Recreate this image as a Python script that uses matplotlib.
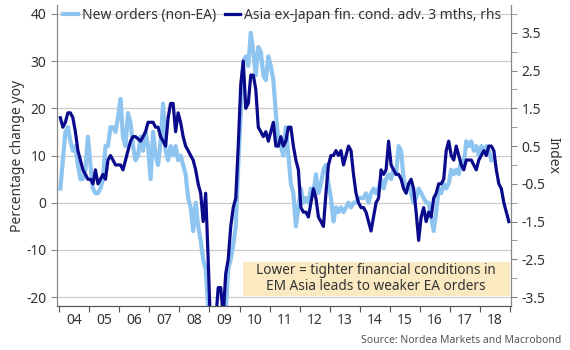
import numpy as np
import matplotlib
matplotlib.use("Agg")
import matplotlib.pyplot as plt
from matplotlib.patches import Rectangle

plt.rcParams['font.family'] = ['Noto Sans', 'DejaVu Sans']

# monthly data, Jan 2004 onwards
# new orders (non-EA), % y/y, left axis
orders = [
    3, 9, 15, 16, 13, 11, 12, 8, 5, 5, 7, 14,            # 2004
    8, 3, 2, 2, 3, 5, 12, 12, 16, 16, 15, 18,            # 2005
    22, 14, 12, 19, 17, 12, 9, 10, 14, 11, 15, 12,       # 2006
    5, 15, 10, 8, 13, 21, 11, 9, 12, 10, 12, 9,          # 2007
    10, 8, 6, 1, -1, -6, 0, -5, -8, -12, -14, -22,       # 2008
    -25, -27, -28, -27, -26, -25, -23, -14, -12, -9, -5, 8,  # 2009
    19, 30, 31, 29, 36, 32, 27, 33, 32, 27, 26, 31,      # 2010
    29, 26, 19, 13, 12, 10, 16, 10, 4, 2, -5, -1,        # 2011
    3, 0, 1, 0, 3, 2, 6, 2, 4, 7, 8, 4,                  # 2012
    1, -4, -1, -2, -1, -2, -1, 0, -1, 0, 0, 1,           # 2013
    1, 1, 2, 0, 2, 3, 2, 3, 5, 3, 5, 6,                  # 2014
    5, 7, 6, 12, 11, 5, 3, 4, 2, 0, 1, 3,                # 2015
    2, 1, 0, 0, -3, -6, -2, 3, 2, 4, 3, 4,               # 2016
    7, 6, 7, 6, 9, 8, 13, 12, 13, 11, 12, 10,            # 2017
    12, 11, 12, 11, 9,                                   # 2018
]

# Asia ex-Japan financial conditions, advanced 3 months, index, right axis
fincond = [
    1.25, 1.0, 1.13, 1.38, 1.38, 1.25, 0.88, 0.38, 0.13, -0.13, -0.25, -0.38,     # 2004
    -0.38, -0.5, -0.13, -0.5, -0.38, -0.25, -0.38, 0.13, 0.25, 0.13, 0.0, 0.0,    # 2005
    0.0, -0.13, 0.13, 0.38, 0.63, 0.75, 0.75, 0.69, 0.63, 0.75, 0.88, 1.13,       # 2006
    1.13, 1.13, 1.0, 1.0, 0.75, 0.63, 0.5, 1.25, 1.63, 1.63, 0.88, 1.38,          # 2007
    1.13, 0.75, 0.5, 0.38, 0.25, 0.13, -0.13, -0.5, -0.75, -1.5, -0.75, -2.5,     # 2008
    -4.5, -4.75, -4.13, -3.25, -3.25, -4.0, -2.88, -2.5, -1.63, -1.13, -0.88, 0.5,  # 2009
    2.13, 2.75, 1.5, 1.63, 2.38, 2.38, 2.0, 1.0, 0.88, 0.75, 0.88, 0.63,          # 2010
    0.88, 1.13, 0.5, 0.5, 0.75, 0.5, 0.63, 1.0, 1.0, 0.5, 0.13, -0.13,            # 2011
    -1.13, -1.25, -1.25, -1.38, -1.0, -0.63, -0.88, -1.38, -1.5, -1.63, -0.75, 0.0,  # 2012
    0.25, 0.25, 0.38, 0.25, 0.38, 0.0, 0.25, 0.5, 0.38, -0.25, -0.75, -1.0,       # 2013
    -1.13, -1.13, -1.25, -1.5, -1.75, -1.38, -1.0, -0.88, -0.13, -0.25, -0.13, 0.63,  # 2014
    0.0, -0.13, -0.25, -0.25, -0.38, -0.63, -0.75, -0.5, -0.38, -0.63, -1.25, -2.0,   # 2015
    -1.38, -1.13, -1.5, -1.25, -1.38, -0.88, -0.75, -0.5, -0.5, -0.38, 0.38, 0.63,    # 2016
    0.25, 0.13, 0.5, 0.25, 0.0, -0.13, 0.13, 0.13, 0.13, 0.0, -0.13, 0.13,        # 2017
    0.25, 0.38, 0.25, 0.5, 0.5, 0.38, -0.13, -0.5, -0.63, -1.0, -1.25, -1.5,      # 2018
]

year_labels = ['04', '05', '06', '07', '08', '09', '10', '11', '12', '13',
               '14', '15', '16', '17', '18']
left_ticks = [-20, -10, 0, 10, 20, 30, 40]
right_ticks = [-3.5, -2.5, -1.5, -0.5, 0.5, 1.5, 2.5, 3.5]

light = '#8ec4f0'
dark = '#0a0a8c'
txt = '#333333'

t_orders = 2004 + (np.arange(len(orders)) + 0.5) / 12
t_fin = 2004 + (np.arange(len(fincond)) + 0.5) / 12

fig = plt.figure(figsize=(5.7, 3.5), dpi=100)
ax = fig.add_axes([0.1, 0.1257, 0.7965, 0.86])
ax2 = ax.twinx()

ax.plot(t_orders, orders, '-', color=light, lw=3.0, label='New orders (non-EA)')
ax2.plot(t_fin, fincond, '-', color=dark, lw=2.3,
         label='Asia ex-Japan fin. cond. adv. 3 mths, rhs')

ax.set_xlim(2003.93, 2019.03)
ax.set_ylim(-21.9, 41.9)
ax2.set_ylim(-21.9 / 8 - 1, 41.9 / 8 - 1)

# x axis: ticks at year boundaries, labels in the middle of each year
years = np.arange(2004, 2020)
ax.set_xticks(years)
ax.set_xticklabels([])
ax.set_xticks(years[:-1] + 0.5, minor=True)
ax.set_xticklabels(year_labels, minor=True)
ax.tick_params(axis='x', which='major', length=4, color='#555555')
ax.tick_params(axis='x', which='minor', length=0, labelsize=10, labelcolor=txt, pad=5)

ax.set_yticks(left_ticks)
ax.set_yticklabels([str(v) for v in left_ticks])
ax.tick_params(axis='y', length=4, color='#888888', labelsize=10, labelcolor=txt)
ax.grid(axis='y', color='#cccccc', lw=0.9)
ax.set_axisbelow(True)

ax2.set_yticks(right_ticks)
ax2.set_yticklabels([('%.1f' % v) for v in right_ticks])
ax2.set_yticks(np.arange(-3, 4.5, 1), minor=True)
ax2.tick_params(axis='y', which='both', length=4, color='#888888',
                labelsize=10, labelcolor=txt)

for a in (ax, ax2):
    a.spines['top'].set_visible(False)
    a.spines['left'].set_color('#888888')
    a.spines['right'].set_color('#888888')
    a.spines['bottom'].set_color('#555555')

ax.set_ylabel('Percentage change yoy', fontsize=10, color=txt, labelpad=1)
ax2.set_ylabel('Index', fontsize=10, color=txt, rotation=270, labelpad=11)

# legend
h1, l1 = ax.get_legend_handles_labels()
h2, l2 = ax2.get_legend_handles_labels()
ax2.legend(h1 + h2, l1 + l2, loc='upper left', bbox_to_anchor=(0.0, 1.01),
           ncol=2, frameon=False, fontsize=10, handlelength=1.1,
           handletextpad=0.3, columnspacing=0.6, borderaxespad=0,
           labelcolor=txt)

# annotation box
ax2.add_patch(Rectangle((0.41, 0.033), 0.588, 0.113, transform=ax2.transAxes,
                        facecolor='#fbe9c2', edgecolor='none', zorder=5))
ax2.text(0.703, 0.09, 'Lower = tighter financial conditions in\nEM Asia leads to weaker EA orders',
         transform=ax2.transAxes, ha='center', va='center', fontsize=9.8,
         color=txt, linespacing=1.1, zorder=6)

fig.text(0.985, 0.012, 'Source: Nordea Markets and Macrobond', ha='right',
         va='bottom', fontsize=7.5, color='#555555')

plt.savefig('out.png', dpi=100)
